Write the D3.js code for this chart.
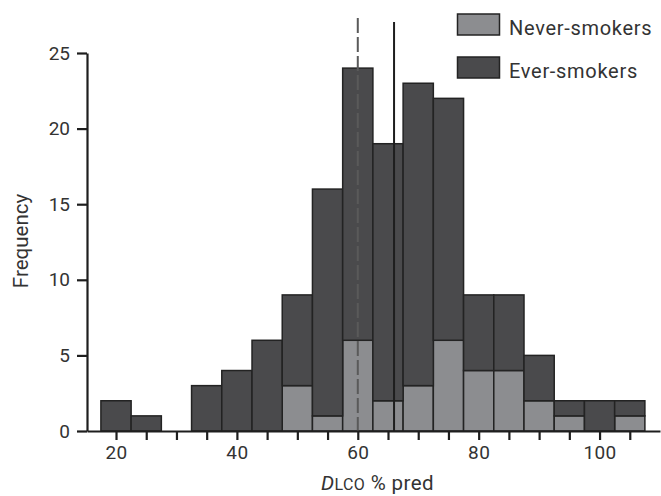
<!DOCTYPE html>
<html>
<head>
<meta charset="utf-8">
<script src="https://cdn.jsdelivr.net/npm/d3@7"></script>
<style>
  body { margin: 0; background: #fff; }
  svg { display: block; font-family: Roboto, "DejaVu Sans", sans-serif; }
</style>
</head>
<body>
<svg id="chart" width="661" height="496"></svg>
<script>
// Histogram bins (centres, % pred), bin width 5
const binCentres = [20, 25, 30, 35, 40, 45, 50, 55, 60, 65, 70, 75, 80, 85, 90, 95, 100, 105];
const neverSmokers = [0, 0, 0, 0, 0, 0, 3, 1, 6, 2, 3, 6, 4, 4, 2, 1, 0, 1];
const everSmokers  = [2, 1, 0, 3, 4, 6, 6, 15, 18, 17, 20, 16, 5, 5, 3, 1, 2, 1];
const binWidth = 5;
const meanLines = [
  { group: "Never-smokers", value: 60, dashed: true },
  { group: "Ever-smokers", value: 66, dashed: false }
];
const yTicks = [0, 5, 10, 15, 20, 25];
const xTicks = [20, 25, 30, 35, 40, 45, 50, 55, 60, 65, 70, 75, 80, 85, 90, 95, 100, 105];
const xLabelled = [20, 40, 60, 80, 100];
const legendItems = ["Never-smokers", "Ever-smokers"];
const colours = { "Never-smokers": "#8c8d90", "Ever-smokers": "#4a4a4c" };

const svg = d3.select("#chart");
const x = d3.scaleLinear().domain([15.2, 110]).range([87, 660]);
const y = d3.scaleLinear().domain([0, 25]).range([431, 53]);

const data = binCentres.map((c, i) => ({ c, never: neverSmokers[i], ever: everSmokers[i] }));
const stack = d3.stack().keys(["never", "ever"])(data);
const keyName = { never: "Never-smokers", ever: "Ever-smokers" };

const bars = svg.append("g");
stack.forEach(layer => {
  bars.selectAll(null).data(layer.filter(d => d[1] - d[0] > 0)).enter().append("rect")
    .attr("x", d => x(d.data.c - binWidth / 2))
    .attr("width", d => x(d.data.c + binWidth / 2) - x(d.data.c - binWidth / 2))
    .attr("y", d => y(d[1]))
    .attr("height", d => y(d[0]) - y(d[1]))
    .attr("fill", colours[keyName[layer.key]])
    .attr("stroke", "#232323")
    .attr("stroke-width", 1.5);
});

// mean lines
svg.selectAll(".mean").data(meanLines).enter().append("line")
  .attr("x1", d => x(d.value)).attr("x2", d => x(d.value))
  .attr("y1", d => d.dashed ? 18 : 22).attr("y2", y(0))
  .attr("stroke", d => d.dashed ? "#5a5a5a" : "#1e1e1e")
  .attr("stroke-width", 2)
  .attr("stroke-dasharray", d => d.dashed ? "15,4" : null);

// Axes
const xAxis = d3.axisBottom(x).tickValues(xTicks).tickSize(9).tickSizeOuter(0).tickPadding(6)
  .tickFormat(d => xLabelled.includes(d) ? d : "");
const gx = svg.append("g").attr("transform", `translate(0,${y(0)})`).call(xAxis);
gx.select(".domain").attr("stroke", "#1e1e1e").attr("stroke-width", 2.2);
gx.selectAll(".tick line").attr("stroke", "#1e1e1e").attr("stroke-width", 2.2);
gx.selectAll(".tick text").attr("font-size", 19).attr("fill", "#333").attr("font-family", "Roboto")
  .attr("letter-spacing", 0.4);

const yAxis = d3.axisLeft(y).tickValues(yTicks).tickSize(10).tickSizeOuter(0).tickPadding(7);
const gy = svg.append("g").attr("transform", `translate(${x(15.2)},0)`).call(yAxis);
gy.select(".domain").attr("stroke", "#1e1e1e").attr("stroke-width", 2.2);
gy.selectAll(".tick line").attr("stroke", "#1e1e1e").attr("stroke-width", 2.2);
gy.selectAll(".tick text").attr("font-size", 19).attr("fill", "#333").attr("font-family", "Roboto");

// Axis titles
svg.append("text")
  .attr("transform", "translate(28,241) rotate(-90)")
  .attr("text-anchor", "middle")
  .attr("font-size", 20.5).attr("fill", "#333")
  .text("Frequency");

const xl = svg.append("text").attr("x", 321).attr("y", 490).attr("font-size", 20.5).attr("fill", "#333")
  .attr("letter-spacing", 0.4);
xl.append("tspan").attr("font-style", "italic").text("D");
xl.append("tspan").attr("font-size", 16).text("LCO");
xl.append("tspan").text(" % pred");

// Legend
const lg = svg.append("g");
legendItems.forEach((name, i) => {
  const yy = 14 + i * 43;
  lg.append("rect").attr("x", 457.5).attr("y", yy).attr("width", 42).attr("height", 21)
    .attr("fill", colours[name]).attr("stroke", "#232323").attr("stroke-width", 1.5);
  lg.append("text").attr("x", 509).attr("y", yy + 20.5)
    .attr("font-size", 20).attr("letter-spacing", 0.7).attr("fill", "#333").text(name);
});
</script>
</body>
</html>
